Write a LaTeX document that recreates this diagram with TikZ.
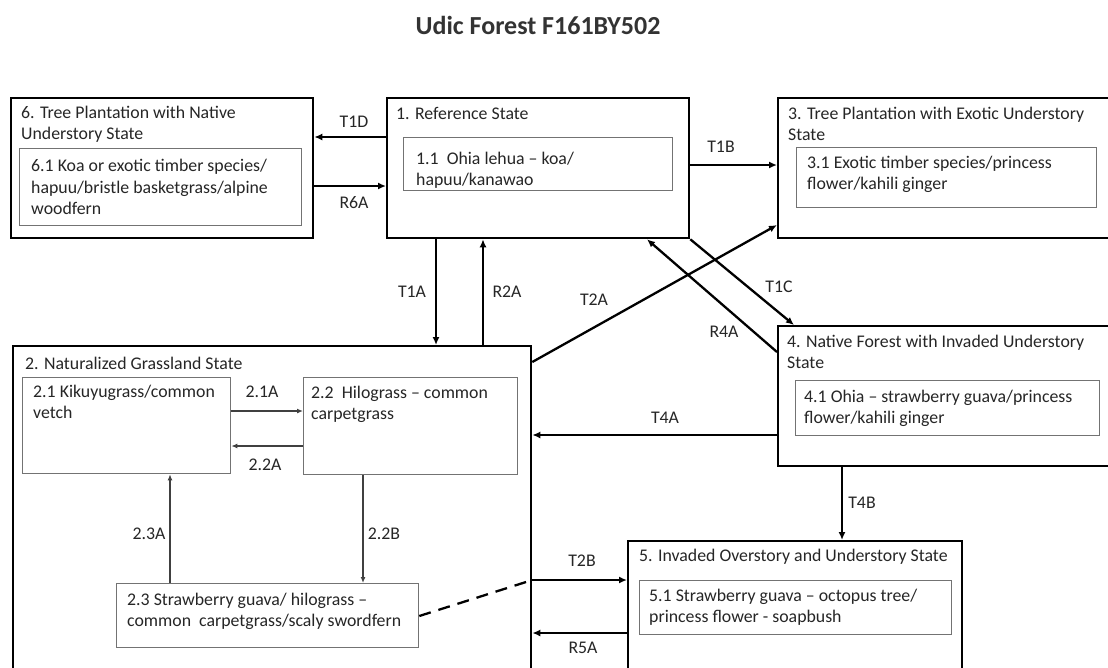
\documentclass[tikz,border=0pt]{standalone}
\usepackage{fontspec}
\setmainfont{Carlito}
\usetikzlibrary{arrows.meta}
\begin{document}
\begin{tikzpicture}[x=1pt,y=-1pt,
  outerbox/.style={draw=black, line width=2.3pt, anchor=north west, inner sep=0pt},
  innerbox/.style={draw=black!55, line width=1.3pt, anchor=north west, inner sep=0pt},
  txt/.style={anchor=west, inner sep=0pt, align=left, text=black!85, font=\fontsize{17.8}{21.3}\selectfont},
  lbl/.style={inner sep=0pt, text=black!85, font=\fontsize{17.8}{21}\selectfont},
  thick arrow/.style={draw=black, line width=2.3pt, -{Latex[length=8pt,width=7pt]}},
  thin arrow/.style={draw=black!75, line width=1.2pt, -{Latex[length=6pt,width=5pt]}}
]
\useasboundingbox (0,0) rectangle (1108,667);
\fill[white] (0,0) rectangle (1108,667);

\node[font=\bfseries\fontsize{26}{31}\selectfont, text=black!80] (title) at (538,25) {Udic Forest F161BY502};

% outer state boxes
\node[outerbox, minimum width=302pt, minimum height=140pt] (b6) at (10,97) {};
\node[outerbox, minimum width=302pt, minimum height=140pt] (b1) at (386,97) {};
\node[outerbox, minimum width=345pt, minimum height=140pt] (b3) at (777,97) {};
\node[outerbox, minimum width=345pt, minimum height=140pt] (b4) at (777,325) {};
\node[outerbox, minimum width=518pt, minimum height=330pt] (b2) at (12,345) {};
\node[outerbox, minimum width=334pt, minimum height=135pt] (b5) at (627,540) {};

% inner community boxes
\node[innerbox, minimum width=282pt, minimum height=77pt] (i61) at (19,148) {};
\node[innerbox, minimum width=269pt, minimum height=53pt] (i11) at (403,137) {};
\node[innerbox, minimum width=300pt, minimum height=60pt] (i31) at (796,147) {};
\node[innerbox, minimum width=304pt, minimum height=55pt] (i41) at (795,380) {};
\node[innerbox, minimum width=312pt, minimum height=54pt] (i51) at (639,580) {};
\node[innerbox, minimum width=208pt, minimum height=96pt] (i21) at (22,377) {};
\node[innerbox, minimum width=214pt, minimum height=97pt] (i22) at (303,377) {};
\node[innerbox, minimum width=302pt, minimum height=64pt] (i23) at (116,583) {};

% texts
\node[txt] (t6) at (21,124) {6. Tree Plantation with Native\\Understory State};
\node[txt] (t61) at (31,187) {6.1 Koa or exotic timber species/\\hapuu/bristle basketgrass/alpine\\woodfern};
\node[txt] (t1) at (396,113) {1. Reference State};
\node[txt] (t11) at (416,170) {1.1\ \ Ohia lehua -- koa/\\hapuu/kanawao};
\node[txt] (t3) at (788,124) {3. Tree Plantation with Exotic Understory\\State};
\node[txt] (t31) at (807,174) {3.1 Exotic timber species/princess\\flower/kahili ginger};
\node[txt] (t4) at (787,352) {4. Native Forest with Invaded Understory\\State};
\node[txt] (t41) at (804,408) {4.1 Ohia -- strawberry guava/princess\\flower/kahili ginger};
\node[txt] (t5) at (639,557) {5. Invaded Overstory and Understory State};
\node[txt] (t51) at (649,607) {5.1 Strawberry guava -- octopus tree/\\princess flower - soapbush};
\node[txt] (t2) at (25,363) {2. Naturalized Grassland State};
\node[txt] (t21) at (33,402) {2.1 Kikuyugrass/common\\vetch};
\node[txt] (t22) at (311,404) {2.2\ \ Hilograss -- common\\carpetgrass};
\node[txt] (t23) at (127,611) {2.3 Strawberry guava/ hilograss --\\common\ \ carpetgrass/scaly swordfern};

% transitions between states
\draw[thick arrow] (b1.west |- 0,137) -- (b6.east |- 0,137);
\draw[thick arrow] (b6.east |- 0,186) -- (b1.west |- 0,186);
\draw[thick arrow] (b1.east |- 0,165) -- (b3.west |- 0,165);
\draw[thick arrow] (436,0 |- b1.south) -- (436,0 |- b2.north);
\draw[thick arrow] (483,0 |- b2.north) -- (483,0 |- b1.south);
\draw[thick arrow] (b2.east |- 0,362) -- (b3.west |- 0,225);
\draw[thick arrow] (b1.south east) -- (794,0 |- b4.north);
\draw[thick arrow] (b4.west |- 0,352) -- (647,0 |- b1.south);
\draw[thick arrow] (b4.west |- 0,435) -- (b2.east |- 0,435);
\draw[thick arrow] (842,0 |- b4.south) -- (842,0 |- b5.north);
\draw[thick arrow] (b2.east |- 0,580) -- (b5.west |- 0,580);
\draw[thick arrow] (b5.west |- 0,633) -- (b2.east |- 0,633);
\draw[black, line width=2.3pt, dash pattern=on 12pt off 8pt] (i23.east |- 0,616) -- (b2.east |- 0,580);

% transitions within state 2
\draw[thin arrow] (i21.east |- 0,411) -- (i22.west |- 0,411);
\draw[thin arrow] (i22.west |- 0,446) -- (i21.east |- 0,446);
\draw[thin arrow] (170,0 |- i23.north) -- (170,0 |- i21.south);
\draw[thin arrow] (363,0 |- i22.south) -- (363,0 |- i23.north);

% labels
\node[lbl] (lT1D) at (354,122) {T1D};
\node[lbl] (lR6A) at (354,203) {R6A};
\node[lbl] (lT1B) at (721,147) {T1B};
\node[lbl] (lT1A) at (412,292) {T1A};
\node[lbl] (lR2A) at (507,292) {R2A};
\node[lbl] (lT2A) at (594,300) {T2A};
\node[lbl] (lT1C) at (779,287) {T1C};
\node[lbl] (lR4A) at (724,332) {R4A};
\node[lbl] (lT4A) at (665,418) {T4A};
\node[lbl] (lT4B) at (862,503) {T4B};
\node[lbl] (lT2B) at (582,561) {T2B};
\node[lbl] (lR5A) at (583,648) {R5A};
\node[lbl] (l21A) at (262,392) {2.1A};
\node[lbl] (l22A) at (265,465) {2.2A};
\node[lbl] (l23A) at (149,534) {2.3A};
\node[lbl] (l22B) at (384,534) {2.2B};
\end{tikzpicture}
\end{document}
